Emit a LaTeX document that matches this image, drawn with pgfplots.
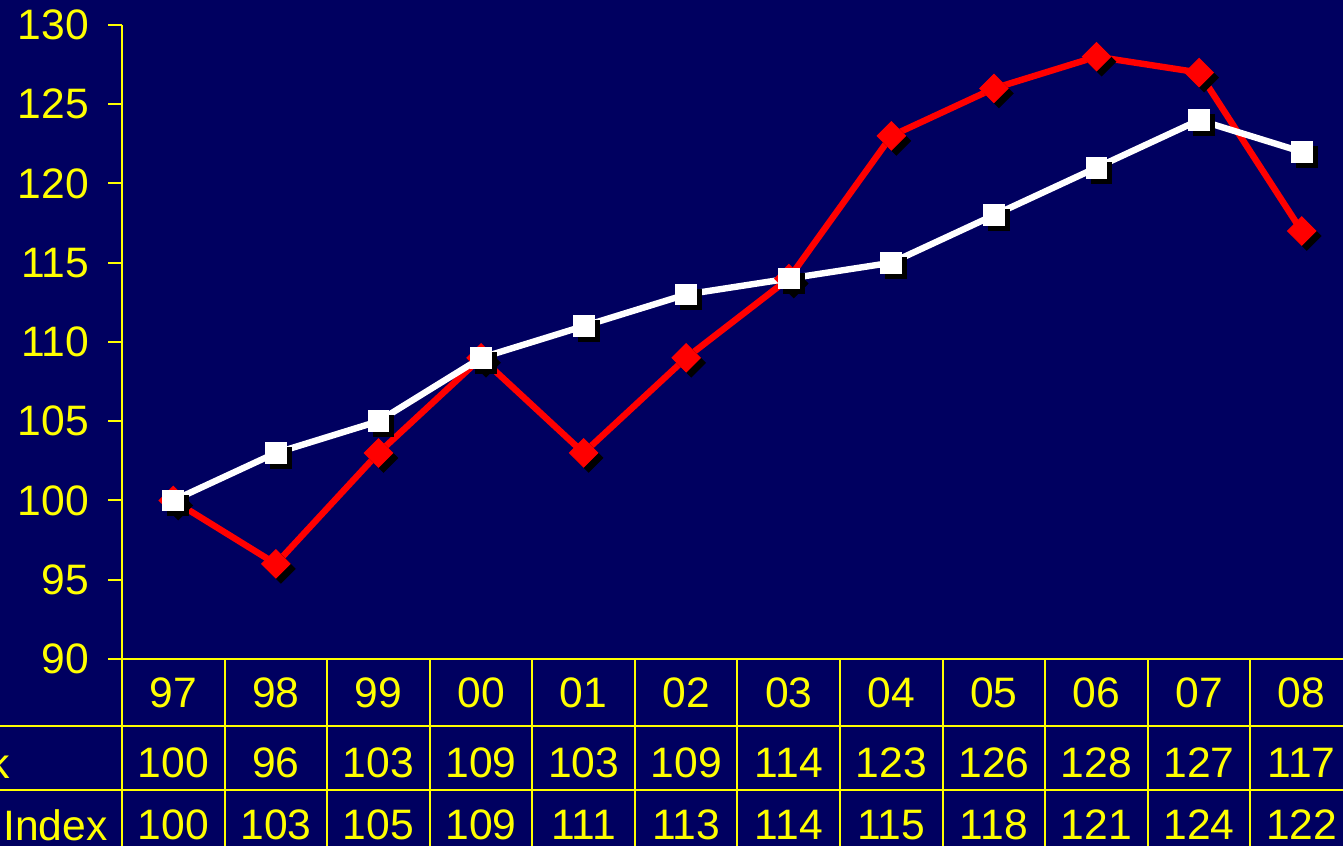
\documentclass[border=0pt]{standalone}
\usepackage{pgfplots}
\pgfplotsset{compat=1.18}
\usepackage{fontspec}
\setmainfont{Liberation Sans}
\definecolor{navy}{HTML}{000060}
\definecolor{yel}{HTML}{FFFF00}
\begin{document}
\begin{tikzpicture}[x=0.5pt,y=0.5pt]
\useasboundingbox (0,0) rectangle (1343,846);
\clip (0,0) rectangle (1343,846);
\fill[navy] (0,0) rectangle (1343,846);
\begin{axis}[at={(61pt,93.5pt)}, anchor=south west,
  width=615.5pt, height=317pt, scale only axis,
  xmin=-0.5, xmax=11.5, ymin=90, ymax=130,
  ytick={90,95,...,130}, xtick=\empty,
  axis lines*=left,
  axis line style={yel, line width=1pt},
  major tick style={yel, line width=1pt},
  major tick length=7pt, tick align=outside,
  /pgf/number format/assume math mode=true,
  yticklabel style={font=\fontsize{21.3}{25}\selectfont, text=yel, xshift=-6pt},
  clip=false]
\addplot[only marks, black, mark=square*, mark size=5pt, mark options={rotate=45, line width=0.5pt}, shift={(2.5pt,-2.5pt)}]
  coordinates {(0,100)(1,96)(2,103)(3,109)(4,103)(5,109)(6,114)(7,123)(8,126)(9,128)(10,127)(11,117)};
\addplot[red, line width=3.2pt, mark=square*, mark size=5pt, mark options={rotate=45, fill=red, line width=0.5pt}]
  coordinates {(0,100)(1,96)(2,103)(3,109)(4,103)(5,109)(6,114)(7,123)(8,126)(9,128)(10,127)(11,117)};
\addplot[only marks, black, mark=square*, mark size=5.2pt, mark options={line width=0.5pt}, shift={(2.5pt,-2.5pt)}]
  coordinates {(0,100)(1,103)(2,105)(3,109)(4,111)(5,113)(6,114)(7,115)(8,118)(9,121)(10,124)(11,122)};
\addplot[white, line width=3.2pt, mark=square*, mark size=5.2pt, mark options={fill=white, line width=0.5pt}]
  coordinates {(0,100)(1,103)(2,105)(3,109)(4,111)(5,113)(6,114)(7,115)(8,118)(9,121)(10,124)(11,122)};
\end{axis}
% data table
\draw[yel, line width=1pt] (0,120) -- (1343,120);
\draw[yel, line width=1pt] (0,56) -- (1343,56);
\draw[yel, line width=1pt] (122,187) -- (122,0);
\foreach \k in {1,...,11} {
  \draw[yel, line width=1pt] ({122+\k*102.58},187) -- ({122+\k*102.58},0);
}
\foreach \lab [count=\i from 0] in {97,98,99,00,01,02,03,04,05,06,07,08} {
  \node[text=yel, font=\fontsize{21.3}{25}\selectfont] at ({122+(\i+0.5)*102.58},153) {\lab};
}
\foreach \v [count=\i from 0] in {100,96,103,109,103,109,114,123,126,128,127,117} {
  \node[text=yel, font=\fontsize{21.3}{25}\selectfont] at ({122+(\i+0.5)*102.58},83) {\v};
}
\foreach \v [count=\i from 0] in {100,103,105,109,111,113,114,115,118,121,124,122} {
  \node[text=yel, font=\fontsize{21.3}{25}\selectfont] at ({122+(\i+0.5)*102.58},21) {\v};
}
\node[text=yel, font=\fontsize{21.3}{25}\selectfont, anchor=east, inner sep=0pt] at (10,83) {Stock};
\node[text=yel, font=\fontsize{21.3}{25}\selectfont, anchor=east, inner sep=0pt] at (108,21) {Price Index};
\end{tikzpicture}
\end{document}
